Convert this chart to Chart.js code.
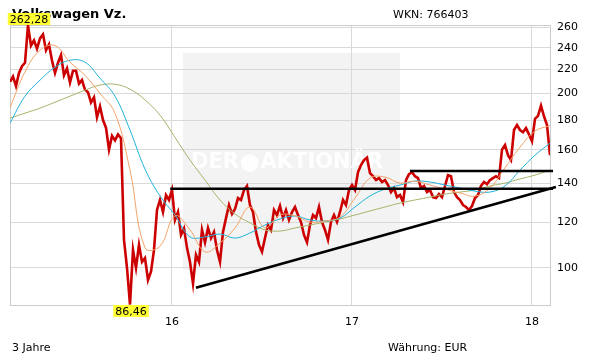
<!DOCTYPE html>
<html>
<head>
<meta charset="utf-8">
<script src="https://cdn.jsdelivr.net/npm/chart.js@4.4.1/dist/chart.umd.min.js"></script>
<style>
  html, body { margin: 0; padding: 0; background: #fff; }
</style>
</head>
<body>
<canvas id="chart" width="611" height="364"></canvas>
<script>
(function () {
  "use strict";

  // Kursdaten (ca. wöchentlich, Start Feb. 2015)
  const startYear = 15.1;
  const priceStep = 1 / 60;
  const maStep = 1 / 12;

  const prices = [
    209.5, 214, 206, 217, 223, 226, 262.28, 242, 247, 239, 249, 253, 237.5, 243, 228, 217, 226, 233, 215, 221,
    209, 219, 219, 208, 211, 203, 201, 193, 197, 182, 190, 180, 174.5, 160, 169, 166, 170, 167.5, 111.8, 100,
    86.46, 107.4, 100, 109.6, 102.4, 104, 95.3, 98.5, 107.4, 125.9, 131, 124.9, 133.6, 131, 136.3, 121, 124.9, 114, 117, 108.3,
    102.4, 94, 105.3, 102.4, 116.3, 110.7, 117.2, 112.6, 115.4, 107.4, 102.4, 115.4, 121.9, 128.4, 123.9, 126.4, 132, 131, 136.3, 138.5,
    128.4, 124.9, 115.4, 109.6, 106.6, 112.6, 118.6, 116.3, 125.9, 123.4, 127.9, 121.9, 125.9, 121, 124.9, 127.4, 123.4, 120, 114, 110.7,
    118.6, 123.4, 121.9, 127.4, 120, 116.3, 111.8, 120, 123.4, 120, 124.9, 131, 128.4, 136.3, 139, 136.3, 146.3, 150.5, 153.5, 155,
    145.8, 144, 141.8, 142.9, 140.7, 141.8, 139, 135.2, 137.4, 132.5, 133.6, 129.9, 141.8, 145.2, 146.3, 144, 142.9, 137.4, 138.5, 135.2,
    136.3, 132.5, 132, 134.1, 132.5, 138.5, 144.6, 144, 135.2, 132.5, 131, 128.4, 127.4, 125.9, 127.9, 132, 133.6, 138.5, 140.7, 139.5,
    141.8, 142.9, 144, 142.9, 160, 163, 156.5, 153.5, 173, 176.5, 173, 171.5, 174.3, 170, 165.5, 180.8, 183, 190.5, 182.7, 176.5,
    156.5
  ];

  const ma38 = [
    189, 218, 237.5, 242, 226.5, 215, 200, 185, 147.5, 108.3, 109, 123, 116.3, 106.6, 110.4, 117.2, 127.4, 117.2, 123.4, 123,
    120, 120.5, 122.4, 132, 142.9, 143.5, 140.1, 141.2, 139, 136.8, 134.7, 133, 137.4, 148.9, 161.6, 172.3, 176
  ];
  const ma100 = [
    177.8, 197.9, 210.9, 222, 228.3, 226.5, 212.5, 197.9, 172.9, 148.1, 133.1, 123.4, 113.1, 113.1, 114.4, 112.6, 114.9, 118.6, 121.5, 122.9,
    121, 120.5, 121.9, 127.4, 133.1, 136.8, 139, 141.2, 140.7, 139, 137.4, 135.7, 135.2, 138.5, 147.5, 156.5, 164.2
  ];
  const ma200 = [
    181.4, 185, 188.7, 193.2, 197.9, 202.7, 206.8, 207.5, 203.5, 195, 183.5, 168, 153.5, 141.8, 131, 123.9, 119.6, 116.3, 115.8, 117.2,
    118.6, 120, 121.5, 123.4, 125.4, 127.4, 129.4, 131, 132.5, 134.1, 135.2, 136.3, 138.5, 140.1, 142.4, 144.6, 147.5
  ];

  // Trendlinien
  const supportX = [15.99, 18.117];
  const supportY = [137, 137];
  const resistX = [17.322, 18.117];
  const resistY = [147, 147];
  const riseX = [16.133, 18.133];
  const riseY = [92.4, 137.9];

  const yTicks = [100, 120, 140, 160, 180, 200, 220, 240, 260];
  const xTicks = [16, 17, 18];
  const xTickLabels = ["16", "17", "18"];

  const titleText = "Volkswagen Vz.";
  const wknText = "WKN: 766403";
  const periodText = "3 Jahre";
  const currencyText = "Währung: EUR";

  const FONT = "'DejaVu Sans', Verdana, sans-serif";

  function pts(xs, ys) {
    return ys.map((y, i) => ({ x: xs[i], y: y }));
  }
  const priceData = prices.map((v, i) => ({ x: startYear + i * priceStep, y: v }));
  const maDates = ma38.map((_, i) => startYear + i * maStep);

  function fmt(v) {
    return v.toFixed(2).replace(".", ",");
  }

  const decor = {
    id: "decor",
    beforeDraw(chart) {
      const ctx = chart.ctx;
      const a = chart.chartArea;
      ctx.save();
      ctx.fillStyle = "#fff";
      ctx.fillRect(0, 0, chart.width, chart.height);
      // Wasserzeichen-Box
      ctx.fillStyle = "#f3f3f3";
      ctx.fillRect(a.left + 173, a.top + 28, 217, 217);
      ctx.restore();
    },
    beforeDatasetsDraw(chart) {
      const ctx = chart.ctx;
      const a = chart.chartArea;
      ctx.save();
      ctx.fillStyle = "rgba(255,255,255,0.9)";
      ctx.textBaseline = "middle";
      ctx.textAlign = "left";
      // Schriftgröße so wählen, dass das Logo in die Box passt
      ctx.font = "bold 20px " + FONT;
      const raw = ctx.measureText("DER").width + ctx.measureText("AKTIONÄR").width + 22;
      const size = Math.floor((20 * 200) / raw);
      ctx.font = "bold " + size + "px " + FONT;
      const r = size * 0.42;
      const cy = a.top + 138;
      let x = a.left + 181;
      ctx.fillText("DER", x, cy);
      x += ctx.measureText("DER").width + 2;
      ctx.beginPath();
      ctx.arc(x + r, cy, r, 0, Math.PI * 2);
      ctx.fill();
      x += 2 * r + 2;
      ctx.fillText("AKTIONÄR", x, cy);
      // Rahmen
      ctx.strokeStyle = "#cccccc";
      ctx.lineWidth = 1;
      ctx.strokeRect(a.left + 0.5, a.top + 0.5, a.right - a.left, a.bottom - a.top);
      ctx.restore();
    },
    afterDraw(chart) {
      const ctx = chart.ctx;
      const a = chart.chartArea;
      ctx.save();
      ctx.fillStyle = "#000";
      ctx.textBaseline = "alphabetic";
      ctx.textAlign = "left";
      ctx.font = "bold 13px " + FONT;
      ctx.fillText(titleText, 12, 18);
      ctx.font = "11px " + FONT;
      ctx.fillText(wknText, 393, 18);
      ctx.fillText(periodText, 12, 351);
      ctx.fillText(currencyText, 388, 351);

      // Hoch / Tief markieren
      const xs = chart.scales.x;
      const ys = chart.scales.y;
      let hi = 0, lo = 0;
      prices.forEach((v, i) => {
        if (v > prices[hi]) hi = i;
        if (v < prices[lo]) lo = i;
      });
      function tag(i, above) {
        const t = fmt(prices[i]);
        const px = xs.getPixelForValue(startYear + i * priceStep);
        const py = ys.getPixelForValue(prices[i]);
        ctx.font = "11px " + FONT;
        const w = ctx.measureText(t).width + 4;
        const h = 12;
        const top = above ? Math.min(py, a.top) - h : Math.max(py, a.bottom);
        ctx.fillStyle = "#ffff33";
        ctx.fillRect(px - w / 2 + 1, top, w, h);
        ctx.fillStyle = "#000";
        ctx.textBaseline = "middle";
        ctx.fillText(t, px - w / 2 + 3, top + h / 2 + 1);
      }
      tag(hi, true);
      tag(lo, false);
      ctx.restore();
    },
  };

  const black = { borderColor: "#000", borderWidth: 2.5, pointRadius: 0, clip: false, order: 0 };

  new Chart(document.getElementById("chart"), {
    type: "line",
    data: {
      datasets: [
        { data: pts(supportX, supportY), ...black },
        { data: pts(resistX, resistY), ...black },
        { data: pts(riseX, riseY), ...black },
        { data: pts(maDates, ma38), borderColor: "#f2a46a", borderWidth: 1, pointRadius: 0, tension: 0.4, order: 1 },
        { data: pts(maDates, ma100), borderColor: "#22b4dc", borderWidth: 1, pointRadius: 0, tension: 0.4, order: 2 },
        { data: pts(maDates, ma200), borderColor: "#a9b46a", borderWidth: 1, pointRadius: 0, tension: 0.4, order: 3 },
        { data: priceData, borderColor: "#cc0000", borderWidth: 2.6, pointRadius: 0, tension: 0, order: 4 },
      ],
    },
    options: {
      responsive: false,
      animation: false,
      devicePixelRatio: 1,
      layout: { padding: { left: 10, top: 25, right: 0, bottom: 0 } },
      plugins: { legend: { display: false }, tooltip: { enabled: false } },
      scales: {
        x: {
          type: "linear",
          min: 15.1,
          max: 18.1,
          afterBuildTicks: (s) => {
            s.ticks = xTicks.map((v) => ({ value: v }));
          },
          afterFit: (s) => {
            s.height = 59;
          },
          ticks: {
            callback: (v) => xTickLabels[xTicks.indexOf(v)],
            color: "#000",
            font: { family: FONT, size: 11 },
            padding: 11,
            maxRotation: 0,
          },
          grid: { color: "#d9d9d9", drawTicks: false },
          border: { display: false },
        },
        y: {
          type: "logarithmic",
          position: "right",
          min: 86.3,
          max: 262.6,
          afterBuildTicks: (s) => {
            s.ticks = yTicks.map((v) => ({ value: v }));
          },
          afterFit: (s) => {
            s.width = 61;
          },
          ticks: {
            callback: (v) => String(v),
            color: "#000",
            font: { family: FONT, size: 11 },
            padding: 7,
          },
          grid: { color: "#d9d9d9", drawTicks: false },
          border: { display: false },
        },
      },
    },
    plugins: [decor],
  });
})();
</script>
</body>
</html>
